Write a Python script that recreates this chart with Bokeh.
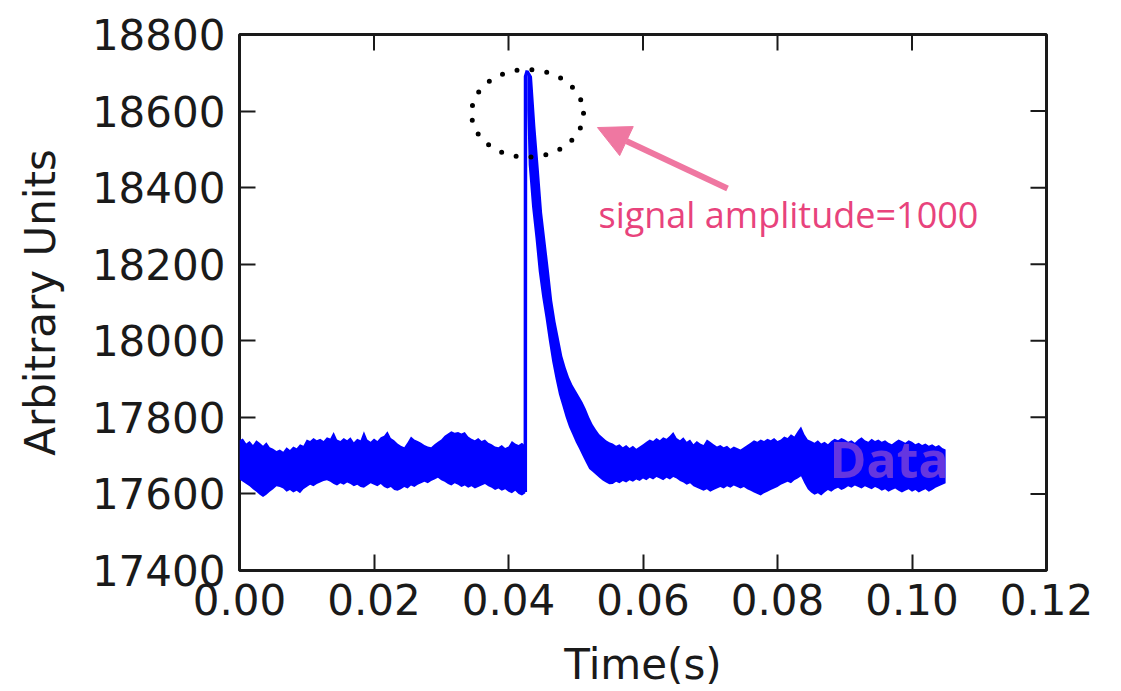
from bokeh.plotting import figure
from bokeh.models import FixedTicker, NumeralTickFormatter, Arrow, NormalHead
from bokeh.core.properties import value
from bokeh.embed import file_html
from bokeh.resources import INLINE
import math

# ---- data ----
step = 0.0005
# noise band before the pulse (t = 0 ... 0.0425, every 0.5 ms)
pre_upper = [17740, 17745, 17732, 17738, 17728, 17740, 17734, 17726, 17735, 17722,
             17718, 17712, 17716, 17710, 17722, 17715, 17724, 17719, 17730, 17726,
             17742, 17738, 17746, 17740, 17744, 17738, 17748, 17745, 17762, 17742,
             17738, 17746, 17740, 17748, 17735, 17744, 17740, 17764, 17742, 17736,
             17745, 17738, 17748, 17752, 17764, 17746, 17740, 17732, 17726, 17722,
             17735, 17750, 17742, 17738, 17734, 17728, 17724, 17722, 17730, 17736,
             17742, 17752, 17758, 17764, 17760, 17762, 17758, 17762, 17750, 17744,
             17740, 17746, 17738, 17742, 17734, 17730, 17724, 17722, 17728, 17720,
             17724, 17738, 17732, 17728, 17734, 17726]
pre_lower = [17638, 17632, 17626, 17620, 17612, 17606, 17598, 17592, 17598, 17606,
             17612, 17620, 17618, 17614, 17606, 17610, 17604, 17608, 17602, 17612,
             17618, 17624, 17620, 17626, 17630, 17634, 17636, 17632, 17626, 17622,
             17628, 17624, 17630, 17626, 17620, 17624, 17618, 17616, 17622, 17628,
             17624, 17620, 17626, 17618, 17614, 17618, 17610, 17608, 17612, 17618,
             17614, 17622, 17618, 17624, 17628, 17632, 17628, 17634, 17638, 17642,
             17636, 17632, 17626, 17622, 17628, 17624, 17618, 17622, 17616, 17620,
             17614, 17618, 17622, 17626, 17620, 17616, 17610, 17614, 17608, 17612,
             17606, 17602, 17608, 17600, 17596, 17602]

# the rising edge
rise_t = [0.04250, 0.04253, 0.04280]
rise_v = [17605, 18690, 18706]

# the decay after the peak
decay_t = [0.0428, 0.0430, 0.0435, 0.0440, 0.0445, 0.0450, 0.0455, 0.0460, 0.0465, 0.0470,
           0.0475, 0.0480, 0.0485, 0.0490, 0.0495, 0.0500, 0.0505, 0.0510, 0.0515, 0.0520,
           0.0525, 0.0530, 0.0535, 0.0540, 0.0545, 0.0550]
decay_upper = [18706, 18705, 18690, 18560, 18450, 18335, 18260, 18185, 18105, 18050,
               18005, 17960, 17930, 17905, 17885, 17870, 17855, 17840, 17822, 17800,
               17782, 17768, 17756, 17748, 17740, 17735]
decay_lower = [18600, 18460, 18350, 18270, 18180, 18115, 18060, 18000, 17945, 17900,
               17860, 17830, 17800, 17775, 17755, 17735, 17718, 17700, 17682, 17665,
               17658, 17650, 17642, 17635, 17630, 17625]

# noise band after the pulse (t = 0.0555 ... 0.105, every 0.5 ms)
post_start = 0.0555
post_upper = [17732, 17726, 17730, 17722, 17728, 17720, 17726, 17718, 17724, 17730,
              17736, 17742, 17738, 17746, 17740, 17748, 17744, 17752, 17762, 17746,
              17740, 17748, 17736, 17742, 17730, 17738, 17732, 17728, 17742, 17736,
              17730, 17724, 17728, 17722, 17726, 17718, 17724, 17720, 17716, 17722,
              17728, 17734, 17740, 17736, 17742, 17738, 17744, 17740, 17746, 17738,
              17742, 17750, 17746, 17756, 17750, 17764, 17776, 17756, 17742, 17738,
              17734, 17740, 17732, 17736, 17730, 17738, 17744, 17740, 17746, 17742,
              17736, 17740, 17734, 17742, 17748, 17740, 17736, 17744, 17738, 17742,
              17736, 17740, 17734, 17730, 17736, 17742, 17738, 17734, 17740, 17736,
              17730, 17734, 17728, 17732, 17726, 17730, 17724, 17728, 17720, 17716]
post_lower = [17626, 17632, 17628, 17634, 17630, 17636, 17632, 17638, 17634, 17640,
              17636, 17642, 17638, 17644, 17640, 17636, 17642, 17638, 17644, 17640,
              17634, 17630, 17624, 17628, 17620, 17616, 17612, 17608, 17612, 17606,
              17610, 17614, 17618, 17614, 17620, 17616, 17622, 17618, 17614, 17618,
              17612, 17608, 17604, 17600, 17596, 17602, 17606, 17610, 17614, 17618,
              17624, 17628, 17632, 17628, 17636, 17640, 17646, 17628, 17612, 17604,
              17598, 17602, 17596, 17604, 17610, 17606, 17612, 17616, 17610, 17614,
              17620, 17616, 17622, 17618, 17614, 17620, 17616, 17612, 17618, 17614,
              17608, 17612, 17606, 17610, 17614, 17608, 17604, 17608, 17612, 17606,
              17610, 17604, 17608, 17612, 17606, 17610, 17616, 17620, 17624, 17628]

x_ticks = [0.00, 0.02, 0.04, 0.06, 0.08, 0.10, 0.12]
y_ticks = [17400, 17600, 17800, 18000, 18200, 18400, 18600, 18800]

# ---- build sample grids ----
n_pre = min(len(pre_upper), len(pre_lower))
pre_t = [round(i * step, 5) for i in range(n_pre)]
n_post = min(len(post_upper), len(post_lower))
post_t = [round(post_start + i * step, 5) for i in range(n_post)]
tail_t = decay_t + post_t
tail_up = decay_upper + post_upper[:n_post]
tail_lo = decay_lower + post_lower[:n_post]

BLUE = "#0000ff"
FONT = "DejaVu Sans"
INK = "#1a1a1a"
X0, X1 = 0.0, 0.12
Y0, Y1 = 17400, 18800

p = figure(width=1113, height=691, x_range=(X0, X1), y_range=(Y0, Y1),
           output_backend="svg", toolbar_location=None,
           min_border_left=239, min_border_right=67, min_border_top=34, min_border_bottom=120)
p.background_fill_color = "white"
p.border_fill_color = "white"
p.grid.visible = False
p.outline_line_color = INK
p.outline_line_width = 3

p.varea(x=pre_t, y1=pre_lower[:n_pre], y2=pre_upper[:n_pre], fill_color=BLUE)
p.varea(x=tail_t, y1=tail_lo, y2=tail_up, fill_color=BLUE)
p.line(rise_t, rise_v, line_color=BLUE, line_width=3.5)

# dotted circle around the peak
p.ellipse(x=[0.04283], y=[18594], width=[0.01665], height=[229],
          fill_color=None, line_color="black", line_width=5, line_dash="0 15", line_cap="round")

PINK = "#ef77a1"
p.add_layout(Arrow(end=NormalHead(size=32, fill_color=PINK, line_color=PINK),
                   x_start=0.07257, y_start=18398, x_end=0.05323, y_end=18557,
                   line_color=PINK, line_width=6))

p.text(x=[0.05338], y=[18330], text=["signal amplitude=1000"], text_font=value("Open Sans"),
       text_font_size="36px", text_color="#e8437c", text_baseline="alphabetic", text_align="left")
p.text(x=[0.08773], y=[17690], text=["Data"], text_font=value("Open Sans"), text_font_style="bold",
       text_font_size="50px", text_color="#6536e0", text_baseline="alphabetic", text_align="left")

# inward ticks on the top and right edges
p.ray(x=x_ticks, y=[Y1] * len(x_ticks), length=16, length_units="screen",
      angle=-math.pi / 2, line_color=INK, line_width=2)
p.ray(x=[X1] * len(y_ticks), y=y_ticks, length=16, length_units="screen",
      angle=math.pi, line_color=INK, line_width=2)

def style(ax):
    ax.axis_line_color = None
    ax.major_tick_in = 16
    ax.major_tick_out = 0
    ax.major_tick_line_width = 2
    ax.major_tick_line_color = INK
    ax.minor_tick_line_color = None
    ax.major_label_text_font = FONT
    ax.major_label_text_font_size = "42px"
    ax.major_label_text_color = INK
    ax.axis_label_text_font = FONT
    ax.axis_label_text_font_size = "42px"
    ax.axis_label_text_font_style = "normal"
    ax.axis_label_text_color = INK

xa = p.xaxis[0]
ya = p.yaxis[0]
xa.ticker = FixedTicker(ticks=x_ticks)
xa.formatter = NumeralTickFormatter(format="0.00")
ya.ticker = FixedTicker(ticks=y_ticks)
style(xa)
style(ya)
xa.axis_label = "Time(s)"
ya.axis_label = "Arbitrary Units"
xa.major_label_standoff = 13
ya.major_label_standoff = 14
xa.axis_label_standoff = 22
ya.axis_label_standoff = 24

open("out.html", "w").write(file_html(p, INLINE))
